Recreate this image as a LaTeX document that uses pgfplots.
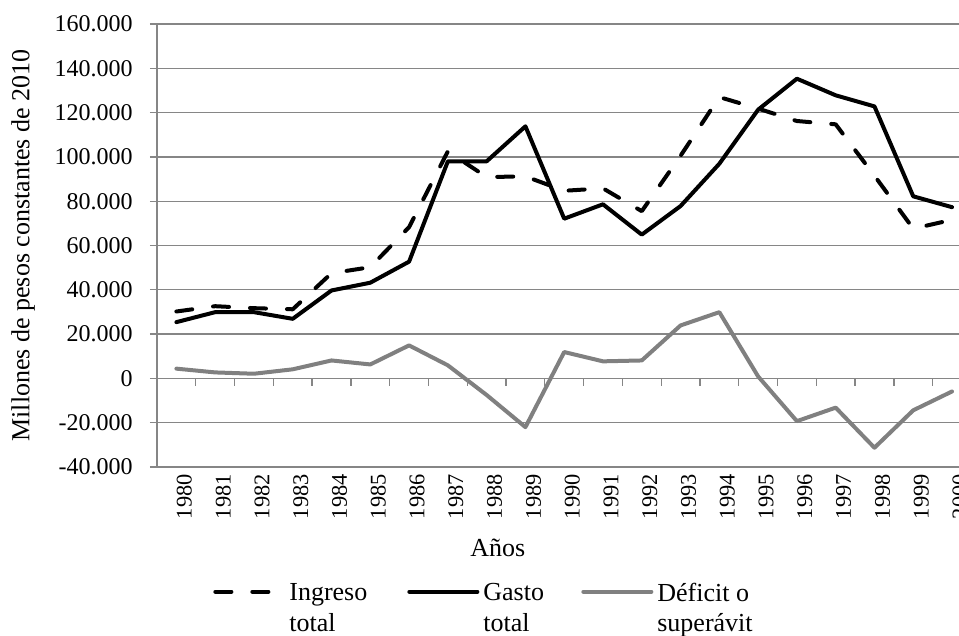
\documentclass[border=0pt]{standalone}
\usepackage{fontspec}
\setmainfont{Liberation Serif}
\usepackage{pgfplots}
\usepackage{pgfplotstable}
\pgfplotsset{compat=1.18}
\definecolor{gridgray}{RGB}{134,134,134}
\definecolor{seriegray}{RGB}{128,128,128}
\pgfplotstableread{
x year ingreso gasto deficit
0  1980 30200 25400 4400
1  1981 32600 29900 2700
2  1982 31700 29900 2100
3  1983 31200 26900 4100
4  1984 47500 39700 8100
5  1985 50200 43200 6300
6  1986 68300 52700 14900
7  1987 102500 98000 5900
8  1988 90900 98000 -7500
9  1989 91200 113800 -22000
10 1990 84700 72100 11900
11 1991 85800 78600 7700
12 1992 75500 64900 8100
13 1993 100500 77800 23900
14 1994 127000 96900 29900
15 1995 121800 121300 900
16 1996 116200 135300 -19300
17 1997 114700 127800 -13200
18 1998 91500 122800 -31300
19 1999 67600 82200 -14400
20 2000 71600 77300 -5900
}\datatable
\begin{document}
\begin{tikzpicture}
\begin{axis}[
  scale only axis,
  width=401pt, height=221.5pt,
  xmin=-0.5, xmax=20.18,
  ymin=-40000, ymax=160000,
  ytick={-40000,-20000,...,160000},
  xtick={0,...,20},
  xticklabels={1980,1981,1982,1983,1984,1985,1986,1987,1988,1989,1990,1991,1992,1993,1994,1995,1996,1997,1998,1999,2000},
  axis y line*=left,
  axis x line*=bottom,
  x axis line style={draw=none},
  y axis line style={gridgray, line width=0.65pt},
  xtick style={draw=none},
  ytick style={gridgray, line width=0.65pt},
  tick align=outside,
  major tick length=3.5pt,
  ymajorgrids,
  grid style={gridgray, line width=0.65pt},
  scaled y ticks=false,
  /pgf/number format/fixed,
  /pgf/number format/1000 sep={.},
  /pgf/number format/assume math mode=true,
  yticklabel style={inner sep=0pt, xshift=-8.5pt, font=\fontsize{12}{14}\selectfont},
  xticklabel style={rotate=90, anchor=east, inner sep=0pt, yshift=-4pt, font=\fontsize{11.2}{13}\selectfont},
  xlabel={Años},
  xlabel style={at={(axis description cs:0.425,0)}, anchor=base, yshift=-45pt, inner sep=0pt, font=\fontsize{13}{15.5}\selectfont},
  ylabel={Millones de pesos constantes de 2010},
  ylabel style={at={(axis description cs:-0.167,0.5)}, anchor=center, inner sep=0pt, font=\fontsize{13}{15.5}\selectfont},
  legend columns=3,
  legend cell align=left,
  legend style={draw=none, fill=none, at={(0.0623,-0.252)}, anchor=north west,
    font=\fontsize{13}{15.2}\selectfont,
    nodes={inner xsep=2pt, inner ysep=0pt},
    /tikz/every odd column/.style={column sep=0pt},
    /tikz/every even column/.style={column sep=0pt}},
  legend image code/.code={\draw[#1] (0pt,1pt) -- (34pt,1pt);},
]
\addplot[black, line width=2pt, line cap=round, line join=round, dash pattern=on 8pt off 10.5pt] table[x=x, y=ingreso] {\datatable};
\addlegendentry{\parbox[t]{57pt}{Ingreso\\total}}
\addplot[black, line width=2pt, line cap=round, line join=round] table[x=x, y=gasto] {\datatable};
\addlegendentry{\parbox[t]{47pt}{Gasto\\total}}
\addplot[seriegray, line width=2pt, line cap=round, line join=round] table[x=x, y=deficit] {\datatable};
\addlegendentry{\parbox[t]{60pt}{Déficit o\\superávit}}
\pgfplotsinvokeforeach{0.5,1.5,2.5,3.5,4.5,5.5,6.5,7.5,8.5,9.5,10.5,11.5,12.5,13.5,14.5,15.5,16.5,17.5,18.5,19.5}{
  \draw[gridgray, line width=0.65pt] (axis cs:#1,0) -- ++(0pt,-4pt);
}
\coordinate (ll) at (rel axis cs:0,0);
\end{axis}
\pgfresetboundingbox
\path[use as bounding box] ([shift={(-78.5pt,-84.5pt)}]ll) rectangle ([shift={(401pt,233.5pt)}]ll);
\end{tikzpicture}
\end{document}
